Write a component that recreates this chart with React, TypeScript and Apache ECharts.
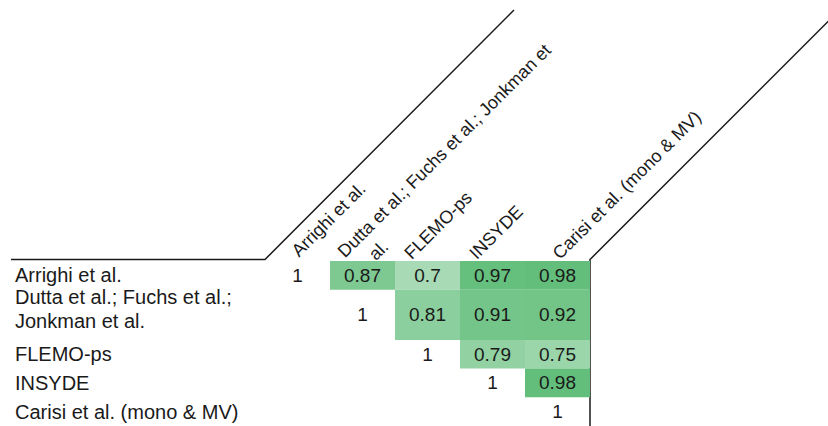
import React, { useEffect, useRef } from "react";
import * as echarts from "echarts";

// Row labels (left) and column labels (rotated, top)
const rowLabels = [
  "Arrighi et al.",
  "Dutta et al.; Fuchs et al.;\nJonkman et al.",
  "FLEMO-ps",
  "INSYDE",
  "Carisi et al. (mono & MV)",
];
const colLabels = [
  "Arrighi et al.",
  "Dutta et al.; Fuchs et al.; Jonkman et al.",
  "FLEMO-ps",
  "INSYDE",
  "Carisi et al. (mono & MV)",
];

// Upper-triangle correlation values, each row starting at its diagonal
const row0 = [1, 0.87, 0.7, 0.97, 0.98];
const row1 = [1, 0.81, 0.91, 0.92];
const row2 = [1, 0.79, 0.75];
const row3 = [1, 0.98];
const row4 = [1];

const FONT = "'Liberation Sans', Arial, Helvetica, sans-serif";
const INK = "#1a1a1a";

export default function App() {
  const ref = useRef<HTMLDivElement>(null);

  useEffect(() => {
    const chart = echarts.init(ref.current!, null, { renderer: "svg" });

    const valueRows = [row0, row1, row2, row3, row4];
    const rowSpan = rowLabels.map((l) => (l.split("\n").length > 1 ? 1.75 : 1));
    const rowStart: number[] = [];
    let acc = 0;
    rowSpan.forEach((s) => {
      rowStart.push(acc);
      acc += s;
    });
    const total = acc;

    const offDiag: number[][] = [];
    const diag: number[][] = [];
    valueRows.forEach((vals, r) => {
      vals.forEach((v, k) => {
        const c = r + k;
        const item = [c, rowStart[r], rowStart[r] + rowSpan[r], v];
        if (c === r) diag.push(item);
        else offDiag.push(item);
      });
    });
    const rowItems = rowLabels.map((_, r) => [0, rowStart[r], rowStart[r] + rowSpan[r], r]);

    const labelPadding: Record<number, number[]> = {
      0: [21, 0, 0, 14],
      1: [19, 0, 0, 0],
      4: [26, 0, 0, 13],
    };

    const option: any = {
      animation: false,
      backgroundColor: "#ffffff",
      textStyle: { fontFamily: FONT },
      grid: [
        { left: 265, top: 261, width: 325, height: 169 },
        { left: 245, top: 261, width: 325, height: 169 },
      ],
      xAxis: [
        {
          type: "category",
          gridIndex: 0,
          data: colLabels,
          position: "top",
          axisLine: { show: false },
          axisTick: { show: false },
          axisLabel: { show: false },
          splitLine: { show: false },
        },
        {
          type: "category",
          gridIndex: 1,
          position: "top",
          data: colLabels.map((c, i) =>
            labelPadding[i] ? { value: c, textStyle: { padding: labelPadding[i] } } : c
          ),
          axisLine: { show: false },
          axisTick: { show: false },
          splitLine: { show: false },
          axisLabel: {
            interval: 0,
            rotate: 45,
            margin: 5,
            fontSize: 18,
            lineHeight: 24,
            color: INK,
            fontFamily: FONT,
            formatter: (v: string) => {
              if (v.indexOf("Jonkman") >= 0) {
                const cut = v.lastIndexOf(" ");
                return v.slice(0, cut) + "\n{gap| }" + v.slice(cut + 1);
              }
              return v;
            },
            rich: { gap: { width: 20, fontSize: 18, lineHeight: 24 } },
          },
        },
      ],
      yAxis: [
        {
          type: "value",
          gridIndex: 0,
          min: 0,
          max: total,
          inverse: true,
          show: false,
        },
        { type: "value", gridIndex: 1, min: 0, max: total, inverse: true, show: false },
      ],
      visualMap: {
        type: "continuous",
        show: false,
        seriesIndex: 0,
        dimension: 3,
        min: 0.34,
        max: 0.98,
        inRange: { color: ["#ffffff", "#63be7b"] },
      },
      series: [
        {
          type: "custom",
          xAxisIndex: 0,
          yAxisIndex: 0,
          clip: false,
          encode: { x: 0, y: [1, 2] },
          data: offDiag,
          renderItem: (params: any, api: any) => {
            const c = api.value(0);
            const p0 = api.coord([c, api.value(1)]);
            const p1 = api.coord([c, api.value(2)]);
            const w = api.size([1, 0])[0];
            return {
              type: "group",
              children: [
                {
                  type: "rect",
                  shape: { x: p0[0] - w / 2, y: p0[1], width: w, height: p1[1] - p0[1] },
                  style: { fill: api.visual("color") },
                },
                {
                  type: "text",
                  x: p0[0],
                  y: (p0[1] + p1[1]) / 2,
                  style: {
                    text: String(api.value(3)),
                    align: "center",
                    verticalAlign: "middle",
                    fontSize: 19,
                    fontFamily: FONT,
                    fill: INK,
                  },
                },
              ],
            };
          },
        },
        {
          type: "custom",
          xAxisIndex: 0,
          yAxisIndex: 0,
          clip: false,
          encode: { x: 0, y: [1, 2] },
          data: diag,
          renderItem: (params: any, api: any) => {
            const c = api.value(0);
            const p0 = api.coord([c, api.value(1)]);
            const p1 = api.coord([c, api.value(2)]);
            return {
              type: "text",
              x: p0[0],
              y: (p0[1] + p1[1]) / 2,
              style: {
                text: String(api.value(3)),
                align: "center",
                verticalAlign: "middle",
                fontSize: 19,
                fontFamily: FONT,
                fill: INK,
              },
            };
          },
        },
        {
          type: "custom",
          xAxisIndex: 0,
          yAxisIndex: 0,
          clip: false,
          encode: { x: 0, y: [1, 2] },
          data: rowItems,
          renderItem: (params: any, api: any) => {
            const p0 = api.coord([0, api.value(1)]);
            const p1 = api.coord([0, api.value(2)]);
            const r = api.value(3);
            return {
              type: "text",
              x: params.coordSys.x - 250,
              y: (p0[1] + p1[1]) / 2 - (rowLabels[r].indexOf("\n") >= 0 ? 6 : 0),
              style: {
                text: rowLabels[r],
                align: "left",
                verticalAlign: "middle",
                fontSize: 20,
                lineHeight: 24,
                fontFamily: FONT,
                fill: INK,
              },
            };
          },
        },
      ],
      graphic: [
        {
          type: "polyline",
          silent: true,
          shape: { points: [[11, 259.5], [265, 259.5], [514, 10]] },
          style: { stroke: INK, lineWidth: 1.5, fill: null },
        },
        {
          type: "polyline",
          silent: true,
          shape: { points: [[590, 426], [590, 259.5], [829, 20.5]] },
          style: { stroke: INK, lineWidth: 1.5, fill: null },
        },
      ],
    };

    chart.setOption(option);
    return () => chart.dispose();
  }, []);

  return (
    <div
      ref={ref}
      style={{ position: "fixed", left: 0, top: 0, width: 828, height: 426, background: "#fff" }}
    />
  );
}
